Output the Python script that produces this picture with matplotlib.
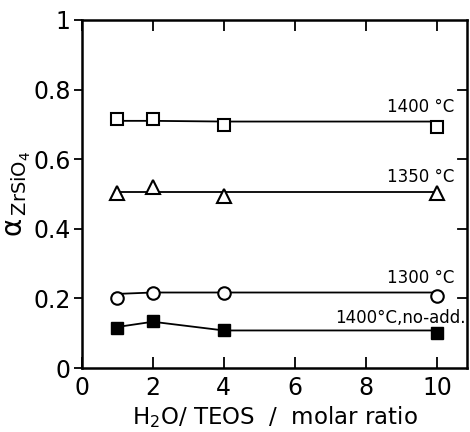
import matplotlib.pyplot as plt

plt.rcParams['font.family'] = ['DejaVu Sans']

ratio = [1, 2, 4, 10]
a_1400 = [0.715, 0.715, 0.699, 0.692]
a_1350 = [0.502, 0.519, 0.493, 0.502]
a_1300 = [0.201, 0.215, 0.217, 0.208]
a_noadd = [0.115, 0.134, 0.110, 0.102]

# hand-drawn guide lines
fit_1400 = [0.710, 0.710, 0.708, 0.708]
fit_1350 = [0.506, 0.506, 0.506, 0.506]
fit_1300 = [0.213, 0.217, 0.217, 0.217]
fit_noadd = [0.118, 0.133, 0.108, 0.108]

fig = plt.figure(figsize=(4.7, 4.32), dpi=100)
ax = fig.add_axes([0.174, 0.148, 0.82, 0.806])

ms = 8.5
for fit in [fit_1400, fit_1350, fit_1300, fit_noadd]:
    ax.plot(ratio, fit, '-', color='black', lw=1.3, zorder=1)
ax.plot(ratio, a_1400, 's', ms=ms, mfc='white', mec='black', mew=1.5, ls='none')
ax.plot(ratio, a_1350, '^', ms=ms + 1, mfc='white', mec='black', mew=1.5, ls='none')
ax.plot(ratio, a_1300, 'o', ms=ms + 0.5, mfc='white', mec='black', mew=1.5, ls='none')
ax.plot(ratio, a_noadd, 's', ms=ms, mfc='black', mec='black', ls='none')

ax.text(10.5, 0.75, '1400 °C', fontsize=12, ha='right', va='center')
ax.text(10.5, 0.549, '1350 °C', fontsize=12, ha='right', va='center')
ax.text(10.5, 0.258, '1300 °C', fontsize=12, ha='right', va='center')
ax.text(10.82, 0.143, '1400°C,no-add.', fontsize=12, ha='right', va='center')

ax.set_xlim(0, 10.85)
ax.set_ylim(0, 1)
ax.set_xticks([0, 2, 4, 6, 8, 10])
ax.set_yticks([0, 0.2, 0.4, 0.6, 0.8, 1])
ax.set_yticklabels(['0', '0.2', '0.4', '0.6', '0.8', '1'])
ax.tick_params(axis='x', direction='in', top=True, length=8, width=1.3, labelsize=17, pad=6)
ax.tick_params(axis='y', direction='out', length=6, width=1.3, labelsize=17, pad=2)
ax.tick_params(axis='y', which='both', right=False)
for y in [0.2, 0.4, 0.6, 0.8]:
    ax.plot([10.6, 10.85], [y, y], color='black', lw=1.3, clip_on=False)
for s in ax.spines.values():
    s.set_linewidth(1.8)

ax.set_xlabel(r'H$_2$O/ TEOS  /  molar ratio', fontsize=16.5, labelpad=3)
ax.set_ylabel(r'α$_{\,\mathrm{ZrSiO_4}}$', fontsize=20, labelpad=0)

fig.savefig('out.png', dpi=100)
